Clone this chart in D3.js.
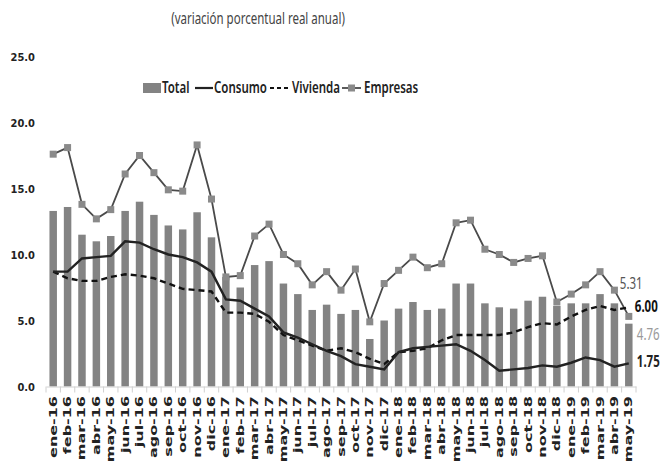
<!DOCTYPE html>
<html>
<head>
<meta charset="utf-8">
<script src="https://cdn.jsdelivr.net/npm/d3@7"></script>
<style>
  body { margin: 0; background: #fff; }
  svg { display: block; }
</style>
</head>
<body>
<div id="chart"></div>
<script>
// months ene-16 .. may-19
var months = ["ene-16","feb-16","mar-16","abr-16","may-16","jun-16","jul-16","ago-16","sep-16","oct-16","nov-16","dic-16",
              "ene-17","feb-17","mar-17","abr-17","may-17","jun-17","jul-17","ago-17","sep-17","oct-17","nov-17","dic-17",
              "ene-18","feb-18","mar-18","abr-18","may-18","jun-18","jul-18","ago-18","sep-18","oct-18","nov-18","dic-18",
              "ene-19","feb-19","mar-19","abr-19","may-19"];

var total    = [13.3,13.6,11.5,11.0,11.4,13.3,14.0,13.0,12.2,11.9,13.2,11.3,
                8.3,7.5,9.2,9.5,7.8,7.0,5.8,6.2,5.5,5.8,3.6,5.0,
                5.9,6.4,5.8,5.9,7.8,7.8,6.3,6.0,5.9,6.5,6.8,6.1,
                6.3,6.3,7.0,6.3,4.76];
var consumo  = [8.7,8.7,9.7,9.8,9.9,11.0,10.9,10.4,10.0,9.8,9.4,8.7,
                6.6,6.5,5.9,5.3,4.1,3.7,3.2,2.7,2.3,1.7,1.5,1.3,
                2.6,2.9,3.0,3.1,3.2,2.7,2.0,1.2,1.3,1.4,1.6,1.5,
                1.8,2.2,2.0,1.5,1.75];
var vivienda = [8.7,8.2,8.0,8.0,8.3,8.5,8.4,8.2,7.8,7.4,7.3,7.2,
                5.6,5.6,5.5,4.9,3.9,3.5,3.1,2.7,2.9,2.6,2.1,1.7,
                2.6,2.7,2.9,3.5,3.9,3.9,3.9,3.9,4.1,4.5,4.8,4.7,
                5.3,5.8,6.1,5.8,6.00];
var empresas = [17.6,18.1,13.8,12.7,13.4,16.1,17.5,16.2,14.9,14.8,18.3,14.2,
                8.3,8.4,11.4,12.3,10.0,9.3,7.7,8.7,7.3,8.9,4.9,7.8,
                8.8,9.8,9.0,9.3,12.4,12.6,10.4,10.0,9.4,9.7,9.9,6.4,
                7.0,7.7,8.7,7.3,5.31];
var yTicks = [0, 5, 10, 15, 20, 25];
var legendNames = ["Total", "Consumo", "Vivienda", "Empresas"];

var W = 660, H = 467;
var svg = d3.select("#chart").append("svg").attr("width", W).attr("height", H);

var x = d3.scaleBand().domain(months).range([46, 636]).paddingInner(0.48).paddingOuter(0.24);
var y = d3.scaleLinear().domain([0, 25]).range([386.5, 56.5]);
var cx = function(m) { return x(m) + x.bandwidth() / 2; };

// title
svg.append("text")
    .attr("transform", "translate(258,24) scale(1,1.4)")
    .attr("text-anchor", "middle")
    .style("font-family", "'Noto Sans', sans-serif")
    .style("font-size", "11.5px")
    .style("fill", "#444")
    .text("(variación porcentual real anual)");

// y tick labels (no axis line)
svg.append("g").selectAll("text")
    .data(yTicks).enter().append("text")
    .attr("x", 35)
    .attr("y", function(d) { return y(d) + 4; })
    .attr("text-anchor", "end")
    .style("font-family", "'DejaVu Sans Condensed', 'DejaVu Sans', sans-serif")
    .style("font-weight", "bold")
    .style("font-size", "11px")
    .style("fill", "#222")
    .text(function(d) { return d.toFixed(1); });

// bars
svg.append("g").selectAll("rect")
    .data(total).enter().append("rect")
    .attr("x", function(d, i) { return x(months[i]); })
    .attr("y", function(d) { return y(d); })
    .attr("width", x.bandwidth())
    .attr("height", function(d) { return y(0) - y(d); })
    .attr("fill", "#838383");

// x axis
var xAxis = svg.append("g")
    .attr("transform", "translate(0," + y(0) + ")")
    .call(d3.axisBottom(x).tickSize(0).tickFormat(""));
xAxis.select(".domain").attr("stroke", "#d0d0d0");
xAxis.selectAll(".sep")
    .data(months.concat(["end"])).enter().append("line")
    .attr("class", "sep")
    .attr("x1", function(d, i) { return 46 + i * x.step(); })
    .attr("x2", function(d, i) { return 46 + i * x.step(); })
    .attr("y1", 0).attr("y2", 6)
    .attr("stroke", "#d0d0d0");

svg.append("g").selectAll("text")
    .data(months).enter().append("text")
    .attr("transform", function(d) { return "translate(" + (cx(d) + 3.5) + ",396) scale(1,1.6) rotate(-90)"; })
    .attr("text-anchor", "end")
    .style("font-family", "'DejaVu Sans', sans-serif")
    .style("font-weight", "bold")
    .style("font-size", "10px")
    .style("fill", "#222")
    .text(function(d) { return d; });

// lines
function lineOf(arr) {
    return d3.line()
        .x(function(d, i) { return cx(months[i]); })
        .y(function(d) { return y(d); })(arr);
}

svg.append("path").attr("d", lineOf(empresas))
    .attr("fill", "none").attr("stroke", "#4a4a4a").attr("stroke-width", 1.8);
svg.append("g").selectAll("rect")
    .data(empresas).enter().append("rect")
    .attr("x", function(d, i) { return cx(months[i]) - 3.5; })
    .attr("y", function(d) { return y(d) - 3.5; })
    .attr("width", 7).attr("height", 7)
    .attr("fill", "#8a8a8a");

svg.append("path").attr("d", lineOf(vivienda))
    .attr("fill", "none").attr("stroke", "#111").attr("stroke-width", 2.4)
    .attr("stroke-dasharray", "6,4");

svg.append("path").attr("d", lineOf(consumo))
    .attr("fill", "none").attr("stroke", "#222").attr("stroke-width", 2.4);

// end labels
var last = months.length - 1;
var endLabels = [
    {v: empresas[last], dx: -9, dy: -32, c: "#555", w: "normal"},
    {v: vivienda[last], dx: 6, dy: 0, c: "#111", w: "bold"},
    {v: total[last], dx: 8, dy: 11, c: "#9a9a9a", w: "normal"},
    {v: consumo[last], dx: 8, dy: -1, c: "#222", w: "bold"}
];
svg.append("g").selectAll("text")
    .data(endLabels).enter().append("text")
    .attr("transform", function(d) { return "translate(" + (cx(months[last]) + d.dx) + "," + (y(d.v) + d.dy + 5) + ") scale(1,1.4)"; })
    .style("font-family", "'Noto Sans', sans-serif")
    .style("font-size", "11.5px")
    .style("font-weight", function(d) { return d.w; })
    .style("fill", function(d) { return d.c; })
    .text(function(d) { return d.v.toFixed(2); });

// legend
var leg = svg.append("g").attr("transform", "translate(0,88)");
var legX = [143, 195, 270, 342];
var legTextX = [162, 214, 292, 364];
leg.append("rect").attr("x", legX[0]).attr("y", -5).attr("width", 18).attr("height", 10).attr("fill", "#838383");
leg.append("line").attr("x1", legX[1]).attr("x2", legX[1] + 18).attr("y1", 0).attr("y2", 0)
    .attr("stroke", "#222").attr("stroke-width", 2.2);
leg.append("line").attr("x1", legX[2]).attr("x2", legX[2] + 19).attr("y1", 0).attr("y2", 0)
    .attr("stroke", "#111").attr("stroke-width", 2.2).attr("stroke-dasharray", "4,3");
leg.append("line").attr("x1", legX[3]).attr("x2", legX[3] + 19).attr("y1", 0).attr("y2", 0)
    .attr("stroke", "#4a4a4a").attr("stroke-width", 1.8);
leg.append("rect").attr("x", legX[3] + 6).attr("y", -3.5).attr("width", 7).attr("height", 7).attr("fill", "#8a8a8a");
leg.selectAll(".lt")
    .data(legendNames).enter().append("text")
    .attr("class", "lt")
    .attr("transform", function(d, i) { return "translate(" + legTextX[i] + ",5) scale(1,1.4)"; })
    .style("font-family", "'Noto Sans', sans-serif")
    .style("font-size", "11.5px")
    .style("font-weight", "600")
    .style("fill", "#222")
    .text(function(d) { return d; });
</script>
</body>
</html>
